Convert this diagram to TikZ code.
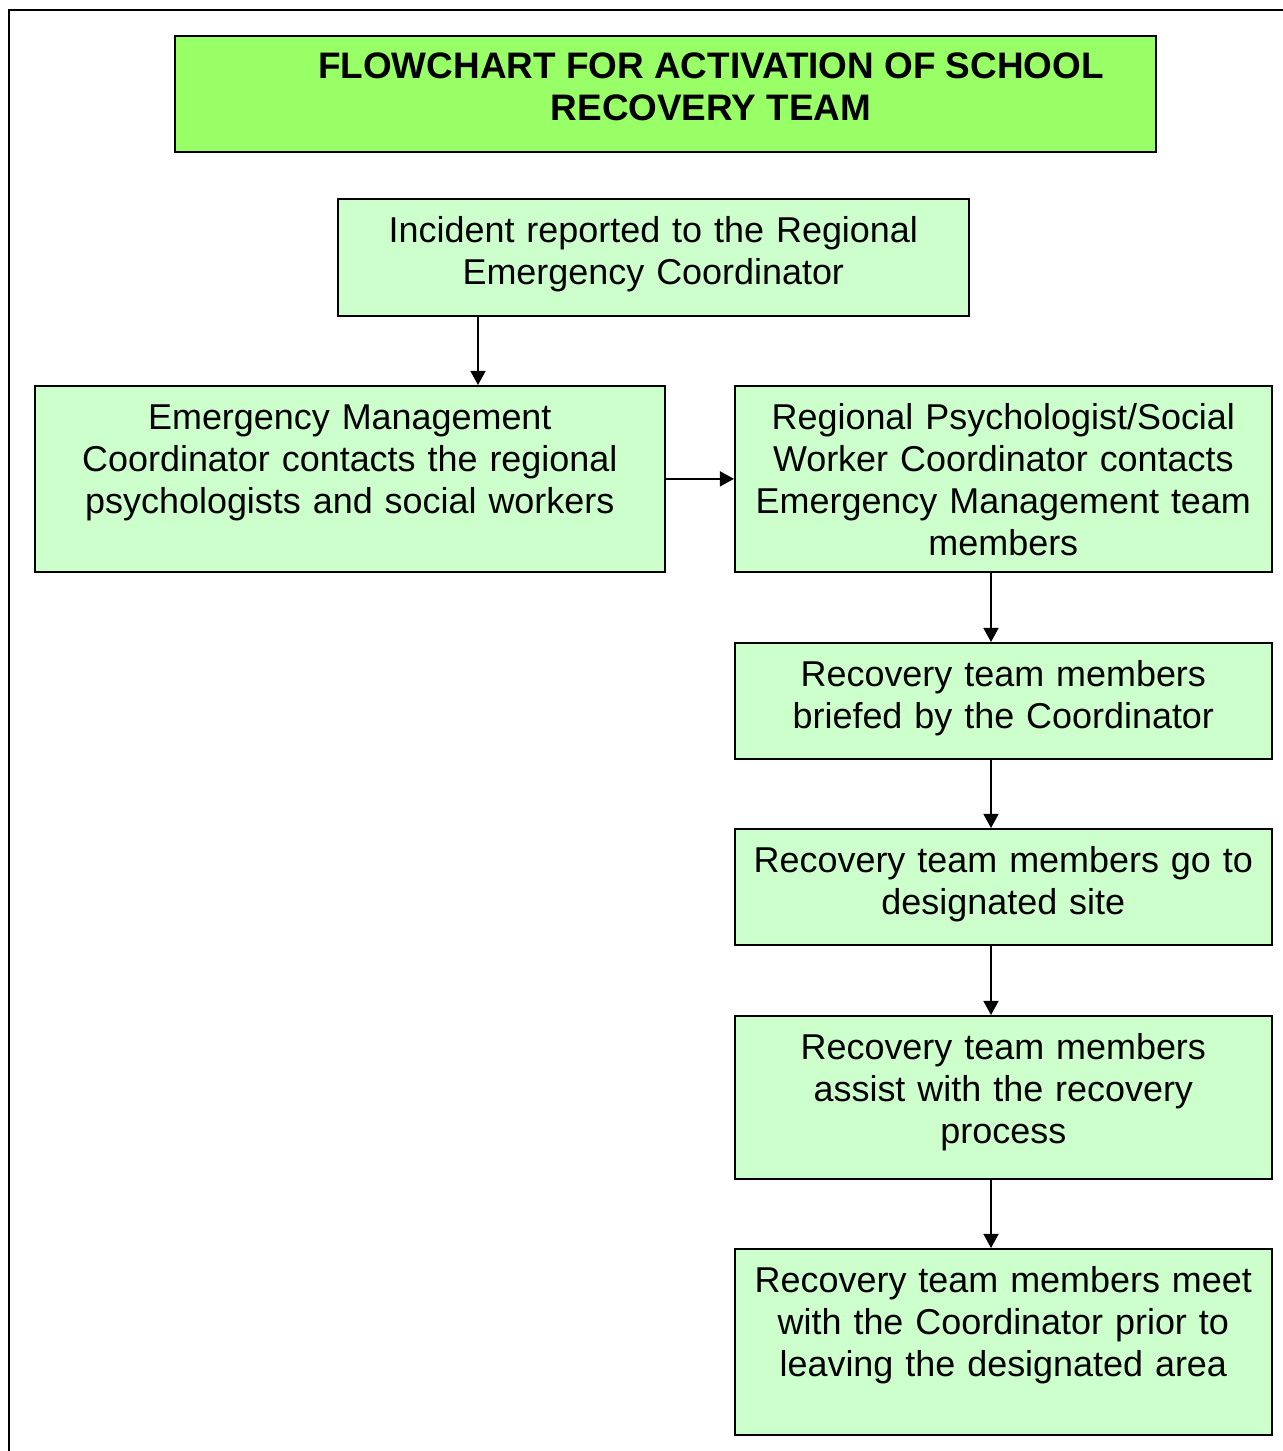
\documentclass[tikz,border=0pt]{standalone}
\usepackage{fontspec}
\setmainfont{Liberation Sans}
\usetikzlibrary{arrows.meta}

\definecolor{titlegreen}{RGB}{153,255,102}
\definecolor{boxgreen}{RGB}{204,255,204}

\tikzset{
  stepbox/.style={draw, line width=1pt, fill=boxgreen, align=center, inner sep=0pt,
    anchor=north west, text height=0.88cm, font=\fontsize{20.45}{23.8}\selectfont},
  arr/.style={line width=1pt, -{Triangle[length=8pt,width=8.5pt]}}
}

\begin{document}
\begin{tikzpicture}[x=0.02cm, y=-0.02cm]
  \useasboundingbox (0,0) rectangle (1283,1451);
  \draw [line width=1.2pt] (1290,10) -- (9,10) -- (9,1460);

  % title
  \node [draw, line width=1pt, fill=titlegreen, anchor=north west, inner sep=0pt,
    minimum width=19.62cm, minimum height=2.32cm] (titlebox) at (174,35) {};
  \node [align=center, font=\fontsize{21}{23.8}\selectfont\bfseries] (title) at (711,87)
    {FLOWCHART FOR ACTIVATION OF SCHOOL\\RECOVERY TEAM};

  % steps
  \node [stepbox, text width=12.62cm, text depth=1.46cm] (incident) at (337,198)
    {Incident reported to the Regional\\Emergency Coordinator};
  \node [stepbox, text width=12.6cm, text depth=2.84cm] (emc) at (34,385)
    {Emergency Management\\Coordinator contacts the regional\\psychologists and social workers};
  \node [stepbox, text width=10.74cm, text depth=2.84cm] (rpc) at (734,385)
    {Regional Psychologist/Social\\Worker Coordinator contacts\\Emergency Management team\\members};
  \node [stepbox, text width=10.74cm, text depth=1.44cm] (briefed) at (734,642)
    {Recovery team members\\briefed by the Coordinator};
  \node [stepbox, text width=10.74cm, text depth=1.44cm] (gosite) at (734,828)
    {Recovery team members go to\\designated site};
  \node [stepbox, text width=10.74cm, text depth=2.38cm] (assist) at (734,1015)
    {Recovery team members\\assist with the recovery\\process};
  \node [stepbox, text width=10.74cm, text depth=2.84cm] (meet) at (734,1248)
    {Recovery team members meet\\with the Coordinator prior to\\leaving the designated area};

  % arrows
  \coordinate (leftarr) at (478,0);
  \coordinate (rightarr) at (991,0);
  \draw [arr] (incident.south -| leftarr) -- (emc.north -| leftarr);
  \draw [arr] (emc.east) -- (rpc.west);
  \foreach \a/\b in {rpc/briefed, briefed/gosite, gosite/assist, assist/meet} {
    \draw [arr] (\a.south -| rightarr) -- (\b.north -| rightarr);
  }
\end{tikzpicture}
\end{document}
